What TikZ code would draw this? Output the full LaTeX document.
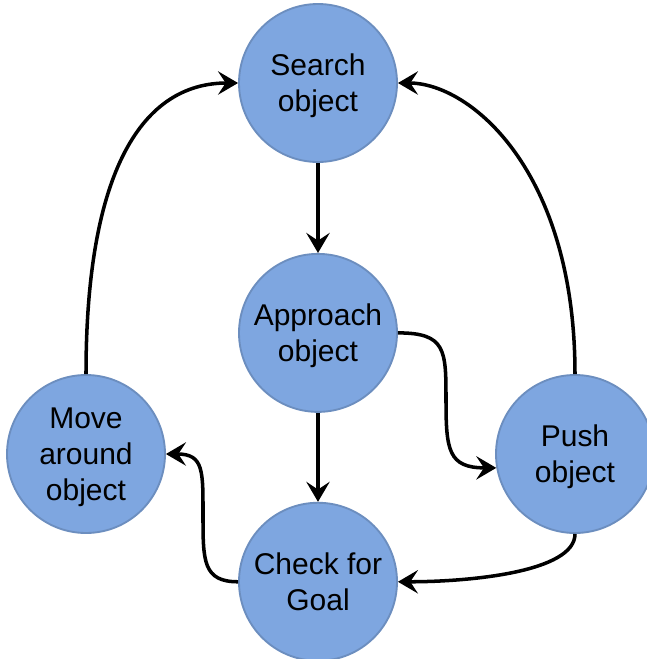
\documentclass[tikz,border=0pt]{standalone}
\usepackage{fontspec}
\setmainfont{Liberation Sans}
\usetikzlibrary{arrows.meta,positioning}

\definecolor{statefill}{HTML}{7EA6E0}
\definecolor{stateline}{HTML}{6C8EBF}

\begin{document}
\begin{tikzpicture}[
  x=0.03cm, y=-0.03cm,
  every node/.style={font=\fontsize{25.6}{30.7}\selectfont},
  state/.style={circle, draw=stateline, line width=1.6pt, fill=statefill, minimum size=4.74cm, inner sep=0pt, align=center, text depth=0pt},
  arr/.style={-{Stealth[length=6mm,width=7mm,inset=2.3mm]}, line width=3pt},
]
\useasboundingbox (0,0) rectangle (647,659);
\node[state] (search) at (318,83) {Search\\object};
\node[state, below=2.7cm of search] (approach) {Approach\\object};
\node[state, below=2.67cm of approach] (check) {Check for\\Goal};
\node[state] (move) at (86,454) {Move\\around\\object};
\node[state] (push) at (575,454) {Push\\object};
% middle points of the two S-shaped connectors
\coordinate (ap2push) at (446,400);
\coordinate (check2move) at (203,516);
\draw[arr] (search) -- (approach);
\draw[arr] (approach) -- (check);
\draw[arr] (approach.east) .. controls +(48,0) and +(0,-50) .. (ap2push)
  .. controls +(0,50) and +(-48,0) .. (push.190);
\draw[arr] (check.west) .. controls +(-35,0) and +(0,45) .. (check2move)
  .. controls +(0,-45) and +(38,0) .. (move.east);
\draw[arr] (push.south) .. controls +(0,38) and +(72,0) .. (check.east);
\draw[arr] (move.north) .. controls +(0,-205) and +(-95,0) .. (search.west);
\draw[arr] (push.north) .. controls +(0,-204) and +(72,0) .. (search.east);
\end{tikzpicture}
\end{document}
